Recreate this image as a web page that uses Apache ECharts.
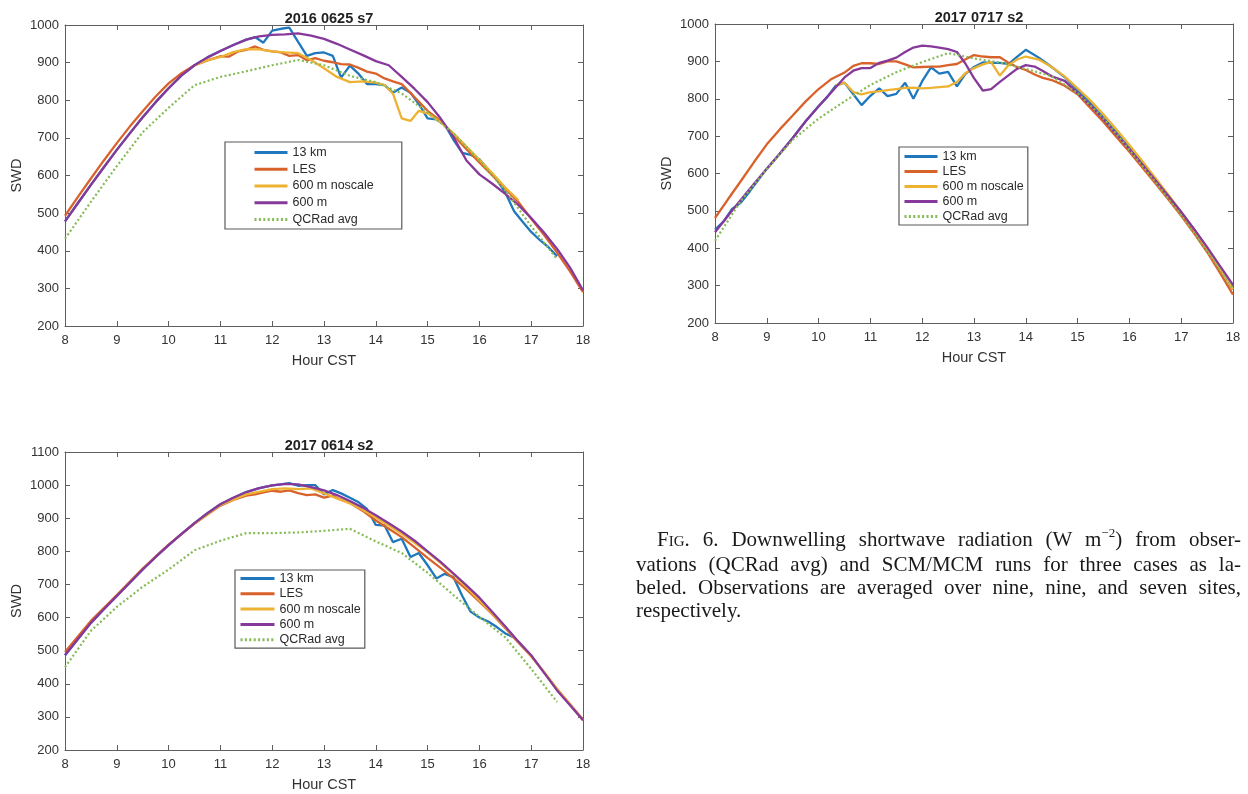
<!DOCTYPE html>
<html><head><meta charset="utf-8">
<script src="https://cdn.jsdelivr.net/npm/echarts@6/dist/echarts.min.js"></script>
<style>
html,body{margin:0;padding:0;background:#fff;}
#chart{position:absolute;left:0;top:0;width:1248px;height:794px;}
#caption{position:absolute;left:636px;top:528px;width:605px;font-family:'Liberation Serif','Times New Roman',serif;font-size:21px;line-height:23px;color:#1a1a1a;}
#caption .l{text-align:justify;text-align-last:justify;}
#caption .last{text-align:left;}
.sup{font-size:13px;position:relative;top:-9px;}
</style>
</head><body>
<div id="chart"></div>
<div id="caption">
<div class="l" style="text-indent:21px"><span style="font-variant:small-caps">Fig.</span> 6. Downwelling shortwave radiation (W m<span class="sup">−2</span>) from obser-</div>
<div class="l">vations (QCRad avg) and SCM/MCM runs for three cases as la-</div>
<div class="l">beled. Observations are averaged over nine, nine, and seven sites,</div>
<div class="last">respectively.</div>
</div>
<script>
// ---------- data: [hour, SWD] ----------
const panelTitles = ['2016 0625 s7', '2017 0717 s2', '2017 0614 s2'];
const seriesNames = ['13 km', 'LES', '600 m noscale', '600 m', 'QCRad avg'];
const yMaxes = [1000, 1000, 1100];

// Panel 1: 2016 0625 s7
const p1_13km = [[8,478],[8.25,527],[8.5,575],[8.75,622],[9,668],[9.25,712],[9.5,755],[9.75,795],[10,832],[10.25,866],[10.5,893],[10.75,914],[11,931],[11.25,947],[11.5,961],[11.67,968],[11.83,953],[12,985],[12.17,990],[12.33,993],[12.5,955],[12.67,918],[12.83,925],[13,927],[13.17,918],[13.33,860],[13.5,892],[13.67,870],[13.83,843],[14,843],[14.17,840],[14.33,820],[14.5,834],[14.67,820],[14.83,790],[15,752],[15.17,749],[15.33,735],[15.5,695],[15.67,660],[15.83,655],[16,643],[16.17,616],[16.33,590],[16.5,555],[16.67,505],[16.83,478],[17,450],[17.17,428],[17.33,410],[17.5,385]];
const p1_les = [[8,493],[8.25,543],[8.5,592],[8.75,640],[9,686],[9.25,730],[9.5,771],[9.75,810],[10,845],[10.25,872],[10.5,893],[10.75,906],[11,917],[11.17,916],[11.33,929],[11.5,934],[11.67,943],[11.83,934],[12,930],[12.17,927],[12.33,918],[12.5,920],[12.67,906],[12.83,912],[13,905],[13.17,901],[13.33,896],[13.5,895],[13.67,886],[13.83,876],[14,871],[14.17,858],[14.33,850],[14.5,843],[14.75,808],[15,772],[15.25,745],[15.5,707],[15.75,670],[16,635],[16.25,600],[16.5,565],[16.75,530],[17,485],[17.25,442],[17.5,395],[17.75,345],[18,290]];
const p1_noscale = [[10.5,893],[10.75,906],[11,915],[11.25,928],[11.5,936],[11.75,935],[12,930],[12.25,927],[12.5,925],[12.75,907],[13,885],[13.25,862],[13.5,848],[13.75,850],[14,847],[14.17,840],[14.33,818],[14.5,752],[14.67,745],[14.83,772],[15,765],[15.25,742],[15.5,712],[15.75,677],[16,642],[16.25,606],[16.5,568],[16.75,535]];
const p1_600m = [[8,478],[8.25,527],[8.5,575],[8.75,622],[9,668],[9.25,712],[9.5,755],[9.75,795],[10,832],[10.25,866],[10.5,893],[10.75,914],[11,931],[11.25,947],[11.5,961],[11.75,970],[12,974],[12.25,975],[12.5,978],[12.75,972],[13,963],[13.25,950],[13.5,935],[13.75,920],[14,904],[14.25,893],[14.5,862],[14.75,830],[15,795],[15.25,752],[15.5,702],[15.75,640],[16,603],[16.25,578],[16.5,551],[16.75,522],[17,487],[17.25,448],[17.5,405],[17.75,355],[18,295]];
const p1_qcrad = [[8,432],[8.5,530],[9,625],[9.5,715],[10,780],[10.5,840],[11,862],[11.5,877],[12,893],[12.5,907],[13,893],[13.5,865],[14,848],[14.5,818],[15,768],[15.5,712],[16,640],[16.5,560],[17,465],[17.5,378]];

// Panel 2: 2017 0717 s2
const p2_13km = [[8,450],[8.17,472],[8.33,505],[8.5,522],[8.67,552],[8.83,582],[9,613],[9.25,653],[9.5,695],[9.75,740],[10,780],[10.17,805],[10.33,835],[10.5,843],[10.67,812],[10.83,783],[11,808],[11.17,828],[11.33,807],[11.5,813],[11.67,843],[11.83,800],[12,847],[12.17,884],[12.33,867],[12.5,872],[12.67,833],[12.83,866],[13,885],[13.17,897],[13.33,896],[13.5,896],[13.67,893],[13.83,912],[14,931],[14.25,910],[14.5,885],[14.75,858],[15,822],[15.25,788],[15.5,750],[15.75,710],[16,668],[16.25,626],[16.5,583],[16.75,540],[17,496],[17.25,450],[17.5,400],[17.75,347],[18,290]];
const p2_les = [[8,481],[8.25,531],[8.5,580],[8.75,630],[9,678],[9.25,718],[9.5,755],[9.75,793],[10,826],[10.25,853],[10.5,870],[10.67,888],[10.83,895],[11,895],[11.17,893],[11.33,900],[11.5,900],[11.67,892],[11.83,884],[12,885],[12.17,886],[12.33,886],[12.5,890],[12.67,893],[12.83,905],[13,917],[13.17,913],[13.33,911],[13.5,911],[13.67,896],[13.83,885],[14,877],[14.17,865],[14.33,856],[14.5,850],[14.75,835],[15,812],[15.25,775],[15.5,738],[15.75,698],[16,658],[16.25,616],[16.5,574],[16.75,531],[17,487],[17.25,440],[17.5,390],[17.75,334],[18,276]];
const p2_noscale = [[10.33,835],[10.5,843],[10.67,818],[10.83,812],[11,818],[11.17,820],[11.33,823],[11.5,826],[11.67,829],[11.83,830],[12,828],[12.17,829],[12.33,831],[12.5,833],[12.67,845],[12.83,868],[13,882],[13.17,892],[13.33,898],[13.5,862],[13.67,890],[13.83,905],[14,913],[14.25,905],[14.5,885],[14.75,860],[15,828],[15.25,795],[15.5,758],[15.75,718],[16,676],[16.25,633],[16.5,588],[16.75,543],[17,497],[17.25,450],[17.5,400],[17.75,346],[18,290]];
const p2_600m = [[8,443],[8.25,487],[8.5,530],[8.75,572],[9,613],[9.25,653],[9.5,695],[9.75,740],[10,780],[10.25,818],[10.5,857],[10.67,875],[10.83,882],[11,882],[11.17,896],[11.33,902],[11.5,910],[11.67,925],[11.83,937],[12,942],[12.17,940],[12.33,937],[12.5,933],[12.67,925],[12.83,895],[13,855],[13.17,822],[13.33,826],[13.5,845],[13.67,863],[13.83,880],[14,890],[14.17,886],[14.33,874],[14.5,860],[14.75,848],[15,815],[15.25,782],[15.5,745],[15.75,705],[16,665],[16.25,624],[16.5,582],[16.75,540],[17,497],[17.25,451],[17.5,403],[17.75,352],[18,302]];
const p2_qcrad = [[8,420],[8.5,527],[9,612],[9.5,690],[10,747],[10.5,793],[11,837],[11.5,871],[12,898],[12.5,922],[13,908],[13.5,897],[14,880],[14.5,860],[15,815],[15.5,748],[16,663],[16.5,578],[17,488],[17.5,392],[18,292]];

// Panel 3: 2017 0614 s2
const p3_13km = [[8,486],[8.25,535],[8.5,584],[8.75,625],[9,665],[9.25,705],[9.5,745],[9.75,783],[10,819],[10.25,853],[10.5,885],[10.75,915],[11,942],[11.25,962],[11.5,979],[11.75,991],[12,999],[12.17,1002],[12.33,1006],[12.5,998],[12.67,1000],[12.83,1000],[13,972],[13.17,985],[13.33,975],[13.5,962],[13.67,948],[13.83,928],[14,880],[14.17,878],[14.33,828],[14.5,838],[14.67,783],[14.83,795],[15,758],[15.17,718],[15.33,732],[15.5,722],[15.67,665],[15.83,618],[16,600],[16.17,588],[16.33,572],[16.5,552],[16.67,540]];
const p3_les = [[8,496],[8.5,590],[9,668],[9.5,748],[10,820],[10.5,884],[11,938],[11.25,955],[11.5,968],[11.67,972],[11.83,978],[12,983],[12.17,980],[12.33,984],[12.5,976],[12.67,970],[12.83,972],[13,962],[13.17,968],[13.33,956],[13.5,946],[13.75,922],[14,893],[14.25,868],[14.5,843],[14.75,812],[15,780],[15.25,750],[15.5,718],[15.75,685],[16,648],[16.25,610],[16.5,568],[16.75,525],[17,483],[17.25,435],[17.5,384],[17.75,338],[18,292]];
const p3_noscale = [[10.5,884],[11,940],[11.5,972],[12,988],[12.25,990],[12.5,988],[12.75,990],[13,975],[13.25,960],[13.5,945],[13.75,925],[14,902],[14.25,878],[14.5,853],[14.75,826],[15,797],[15.25,765],[15.5,730],[15.75,692],[16,652],[16.25,612],[16.5,570],[16.75,527],[17,484],[17.25,435],[17.5,384],[17.75,337],[18,290]];
const p3_600m = [[8,486],[8.25,535],[8.5,584],[8.75,625],[9,665],[9.25,705],[9.5,745],[9.75,783],[10,819],[10.25,853],[10.5,885],[10.75,915],[11,942],[11.25,962],[11.5,979],[11.75,991],[12,999],[12.25,1004],[12.5,1002],[12.75,994],[13,984],[13.25,970],[13.5,952],[13.75,932],[14,909],[14.25,885],[14.5,860],[14.75,832],[15,800],[15.25,768],[15.5,733],[15.75,697],[16,660],[16.25,617],[16.5,573],[16.75,528],[17,486],[17.25,433],[17.5,380],[17.75,335],[18,290]];
const p3_qcrad = [[8,450],[8.5,560],[9,632],[9.5,693],[10,745],[10.5,803],[11,832],[11.5,855],[12,855],[12.5,857],[13,862],[13.5,868],[14,830],[14.5,795],[15,735],[15.5,668],[16,602],[16.5,540],[17,445],[17.5,345]];

const panelData = [
  [p1_13km, p1_les, p1_noscale, p1_600m, p1_qcrad],
  [p2_13km, p2_les, p2_noscale, p2_600m, p2_qcrad],
  [p3_13km, p3_les, p3_noscale, p3_600m, p3_qcrad]
];

// ---------- styling / layout ----------
const colors = ['#1f78bd', '#d9622b', '#edb232', '#86399a', '#86ba55'];
const layout = [
  {grid:{left:65, top:25, width:518, height:301}, titleTop:6,
   legend:{left:225, top:142, padding:[4,28,3,28], itemGap:3.75, itemWidth:33}},
  {grid:{left:715, top:24, width:518, height:299}, titleTop:5,
   legend:{left:899, top:147, padding:[3,4,2,4], itemGap:2, itemWidth:33}},
  {grid:{left:65, top:452, width:518, height:298}, titleTop:433,
   legend:{left:235, top:570, padding:[2,4,2,4], itemGap:2.3, itemWidth:34}}
];

const FONT = "'Liberation Sans', Arial, Helvetica, sans-serif";
const axisColor = '#5e5e5e';
const labelColor = '#333';
const plain = v => String(v);

const option = {
  animation: false,
  backgroundColor: '#fff',
  title: [], grid: [], xAxis: [], yAxis: [], legend: [], series: []
};

layout.forEach((L, i) => {
  const g = L.grid;
  option.grid.push({left:g.left, top:g.top, width:g.width, height:g.height, containLabel:false});
  option.title.push({
    text: panelTitles[i], left: g.left + g.width/2, top: L.titleTop, textAlign: 'center',
    textStyle: {fontFamily: FONT, fontSize: 14.5, fontWeight: 'bold', color: '#222'}
  });
  const common = {
    gridIndex: i, type: 'value',
    axisLine: {show: true, onZero: false, lineStyle: {color: axisColor, width: 1}},
    axisTick: {show: true, inside: true, length: 5, lineStyle: {color: axisColor}},
    splitLine: {show: false}
  };
  option.xAxis.push(Object.assign({}, common, {
    position: 'bottom', min: 8, max: 18, interval: 1,
    axisLabel: {show: true, color: labelColor, fontFamily: FONT, fontSize: 13, margin: 8, formatter: plain},
    name: 'Hour CST', nameLocation: 'middle', nameGap: 27,
    nameTextStyle: {fontFamily: FONT, fontSize: 14.5, color: labelColor}
  }));
  option.xAxis.push(Object.assign({}, common, {
    position: 'top', min: 8, max: 18, interval: 1, axisLabel: {show: false}
  }));
  option.yAxis.push(Object.assign({}, common, {
    position: 'left', min: 200, max: yMaxes[i], interval: 100,
    axisLabel: {show: true, color: labelColor, fontFamily: FONT, fontSize: 13, margin: 6, formatter: plain},
    name: 'SWD', nameLocation: 'middle', nameGap: 41,
    nameTextStyle: {fontFamily: FONT, fontSize: 14.5, color: labelColor}
  }));
  option.yAxis.push(Object.assign({}, common, {
    position: 'right', min: 200, max: yMaxes[i], interval: 100, axisLabel: {show: false}
  }));

  option.legend.push({
    orient: 'vertical', left: L.legend.left, top: L.legend.top,
    padding: L.legend.padding, itemGap: L.legend.itemGap,
    itemWidth: L.legend.itemWidth, itemHeight: 14, align: 'left',
    selectedMode: false,
    itemStyle: {opacity: 0},
    lineStyle: {width: 3},
    backgroundColor: '#fff', borderColor: '#5a5a5a', borderWidth: 1.2,
    textStyle: {fontFamily: FONT, fontSize: 12.5, color: '#2a2a2a'},
    data: seriesNames
  });

  panelData[i].forEach((d, k) => {
    const isObs = k === 4;
    option.series.push({
      name: seriesNames[k], type: 'line', xAxisIndex: i*2, yAxisIndex: i*2,
      data: d, symbol: 'none', showSymbol: false, smooth: false,
      color: colors[k], z: 2 + k,
      lineStyle: {color: colors[k], width: isObs ? 2.2 : 2.3, type: isObs ? [2, 2.4] : 'solid'}
    });
  });
});

const chart = echarts.init(document.getElementById('chart'), null, {renderer: 'canvas'});
chart.setOption(option);
</script>
</body></html>
